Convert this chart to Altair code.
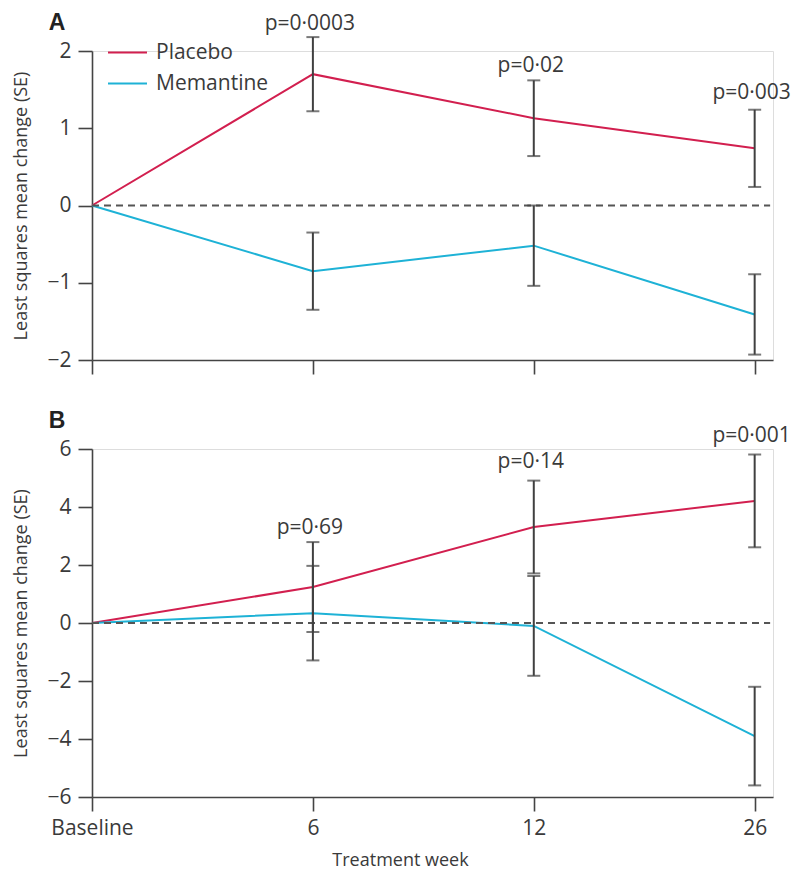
import altair as alt
import pandas as pd

week_idx = [0, 1, 2, 3]
week_labels = ["Baseline", "6", "12", "26"]
series = ["Placebo", "Memantine"]
colors = ["#d21f4f", "#1eb2d6"]

# Panel A
a_placebo_mean = [0.0, 1.70, 1.13, 0.74]
a_placebo_se = [0.0, 0.48, 0.49, 0.50]
a_memantine_mean = [0.0, -0.85, -0.52, -1.41]
a_memantine_se = [0.0, 0.50, 0.52, 0.52]
a_pvals = ["p=0·0003", "p=0·02", "p=0·003"]
a_p_y = [2.35, 1.81, 1.45]

# Panel B
b_placebo_mean = [0.0, 1.24, 3.31, 4.21]
b_placebo_se = [0.0, 1.55, 1.60, 1.60]
b_memantine_mean = [0.0, 0.34, -0.10, -3.90]
b_memantine_se = [0.0, 1.63, 1.72, 1.70]
b_pvals = ["p=0·69", "p=0·14", "p=0·001"]
b_p_y = [3.27, 5.54, 6.45]

FONT = "Open Sans"
TXT = "#3a3a3a"
AX = "#444444"
W = 681
XDOM = [0, 3.083]


def long_df(pm, ps, mm, ms):
    rows = []
    for name, m, s in (("Placebo", pm, ps), ("Memantine", mm, ms)):
        for i, lab, mv, sv in zip(week_idx, week_labels, m, s):
            rows.append({"idx": i, "week": lab, "series": name, "mean": mv,
                         "lo": mv - sv, "hi": mv + sv, "has_err": sv > 0})
    return pd.DataFrame(rows)


label_expr = "datum.value == 0 ? 'Baseline' : datum.value == 1 ? '6' : datum.value == 2 ? '12' : '26'"


def panel(df, pvals, p_y, ydom, ystep, height, letter, show_x_labels, show_legend):
    xaxis = alt.Axis(values=week_idx, labelExpr=label_expr, labels=show_x_labels,
                     labelFlush=False, labelOverlap=False,
                     title="Treatment week" if show_x_labels else None,
                     grid=False, domainColor=AX, tickColor=AX, domainWidth=1.6,
                     tickWidth=1.6, tickSize=14, labelFont=FONT, labelFontSize=21,
                     labelColor=TXT, labelPadding=6, titleFont=FONT, titleFontSize=18,
                     titleColor=TXT, titleFontWeight="normal", titleX=308, titleY=63,
                     titleBaseline="middle", titleAnchor="middle")
    yaxis = alt.Axis(values=list(range(ydom[0], ydom[1] + 1, ystep)), format="d",
                     grid=False, domainColor=AX, tickColor=AX, domainWidth=1.6,
                     tickWidth=1.6, tickSize=14, labelFont=FONT, labelFontSize=21,
                     labelColor=TXT, labelPadding=7,
                     title="Least squares mean change (SE)",
                     titleFont=FONT, titleFontSize=18, titleColor=TXT,
                     titleFontWeight="normal", titlePadding=16)
    x = alt.X("idx:Q", scale=alt.Scale(domain=XDOM, nice=False, zero=False), axis=xaxis)
    yscale = alt.Scale(domain=ydom, nice=False)

    if show_legend:
        leg = alt.Legend(orient="none", legendX=15, legendY=-19, title=None,
                         symbolType="stroke", symbolSize=1521, symbolStrokeWidth=2,
                         labelFont=FONT, labelFontSize=21, labelColor=TXT,
                         labelOffset=8, rowPadding=-8)
    else:
        leg = None
    color = alt.Color("series:N", scale=alt.Scale(domain=series, range=colors),
                      legend=leg)

    base = alt.Chart(df)
    lines = base.mark_line(strokeWidth=2).encode(
        x=x, y=alt.Y("mean:Q", scale=yscale, axis=yaxis), color=color,
        detail="series:N")
    zero_df = pd.DataFrame({"x0": [0.0], "x1": [3.07], "y": [0.0]})
    zero = alt.Chart(zero_df).mark_rule(color="#555555", strokeWidth=2,
                                         strokeDash=[7, 5]).encode(
        x="x0:Q", x2="x1:Q", y="y:Q")
    err = base.transform_filter("datum.has_err")
    err_rule = err.mark_rule(color="#404040", strokeWidth=2).encode(
        x="idx:Q", y="lo:Q", y2="hi:Q")
    cap_lo = err.mark_tick(color="#404040", orient="horizontal", size=13,
                           thickness=2).encode(x="idx:Q", y="lo:Q")
    cap_hi = err.mark_tick(color="#404040", orient="horizontal", size=13,
                           thickness=2).encode(x="idx:Q", y="hi:Q")
    p_df = pd.DataFrame({"idx": week_idx[1:], "p": pvals, "py": p_y})
    ptext = alt.Chart(p_df).mark_text(font=FONT, fontSize=21, color=TXT,
                                      baseline="middle", dx=-3).encode(
        x="idx:Q", y="py:Q", text="p:N")
    let_df = pd.DataFrame({"t": [letter]})
    ltext = alt.Chart(let_df).mark_text(font="Liberation Sans", fontSize=23,
                                        fontWeight="bold", color="#222222",
                                        baseline="middle").encode(
        x=alt.value(-35), y=alt.value(-28), text="t:N")
    return alt.layer(lines, zero, err_rule, cap_lo, cap_hi, ptext, ltext).properties(
        width=W, height=height)


dfA = long_df(a_placebo_mean, a_placebo_se, a_memantine_mean, a_memantine_se)
dfB = long_df(b_placebo_mean, b_placebo_se, b_memantine_mean, b_memantine_se)

pA = panel(dfA, a_pvals, a_p_y, [-2, 2], 1, 309, "A", False, True)
pB = panel(dfB, b_pvals, b_p_y, [-6, 6], 2, 348, "B", True, False)

chart = alt.vconcat(pA, pB, spacing=33).resolve_scale(color="independent").properties(
    padding={"left": 4, "top": 3, "right": 0, "bottom": 0}
).configure_view(stroke=None).configure(background="white")

chart.save("out.html", embed_options={"renderer": "svg", "actions": False})
